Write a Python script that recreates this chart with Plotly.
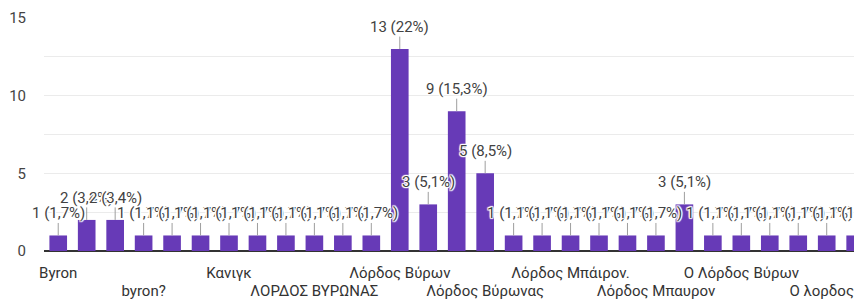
import plotly.graph_objects as go

# Data
values = [1, 2, 2, 1, 1, 1, 1, 1, 1, 1, 1, 1, 13, 3, 9, 5,
          1, 1, 1, 1, 1, 1, 3, 1, 1, 1, 1, 1, 1]
tick_positions = [0, 3, 6, 9, 12, 15, 18, 21, 24, 27]
tick_labels = ["Byron", "byron?", "Κανιγκ", "ΛΟΡΔΟΣ ΒΥΡΩΝΑΣ", "Λόρδος Βύρων",
               "Λόρδος Βύρωνας", "Λόρδος Μπάιρον.", "Λόρδος Μπαυρον",
               "Ο Λόρδος Βύρων", "Ο λορδος…"]
y_ticks = [0, 5, 10, 15]

total = sum(values)
x = list(range(len(values)))

FONT = "Roboto, Arial, sans-serif"

fig = go.Figure()
fig.add_trace(go.Bar(x=x, y=values, width=0.62, marker=dict(color="#673ab7", line=dict(width=0)),
                     hoverinfo="skip"))
# empty trace so the second (staggered) label row axis is drawn
fig.add_trace(go.Scatter(x=[], y=[], xaxis="x2", yaxis="y", hoverinfo="skip"))

def pct(v):
    p = round(v / total * 100, 1)
    s = f"{p:.1f}".replace(".", ",")
    if s.endswith(",0"):
        s = s[:-2]
    return f"{v} ({s}%)"

halo = "1px 0 1px #fff, -1px 0 1px #fff, 0 1px 1px #fff, 0 -1px 1px #fff, 1px 1px 1px #fff, -1px -1px 1px #fff, 1px -1px 1px #fff, -1px 1px 1px #fff"
for i, v in enumerate(values):
    fig.add_annotation(x=i, y=v, xref="x", yref="y", text=pct(v), showarrow=True,
                       arrowhead=0, arrowwidth=1, arrowcolor="#9e9e9e", ax=0, ay=-22,
                       standoff=0, borderpad=0,
                       font=dict(family=FONT, size=15, color="#424242", shadow=halo))

row1_vals = tick_positions[0::2]
row1_text = tick_labels[0::2]
row2_vals = tick_positions[1::2]
row2_text = tick_labels[1::2]

x_range = [-0.5, 28.24]
common_x = dict(range=x_range, tickangle=0, automargin=False, showgrid=False, zeroline=False,
                showline=False, ticks="outside", tickcolor="rgba(0,0,0,0)",
                ticklabeloverflow="allow",
                tickfont=dict(family=FONT, size=15, color="#333"))

# The page body has an 8px margin; the figure is sized to fill the rest of the 862x300 window.
fig.update_layout(
    width=854, height=292,
    margin=dict(l=36, r=0, t=10, b=49, autoexpand=False),
    paper_bgcolor="white", plot_bgcolor="white",
    showlegend=False,
    font=dict(family=FONT, size=15, color="#333"),
    xaxis=dict(tickvals=row1_vals, ticktext=row1_text, ticklen=8, **common_x),
    xaxis2=dict(tickvals=row2_vals, ticktext=row2_text, ticklen=26, overlaying="x",
                anchor="y", side="bottom", **common_x),
    yaxis=dict(range=[0, 15], tickvals=y_ticks, showgrid=True, gridcolor="#ebebeb", gridwidth=1,
               automargin=False,
               minor=dict(dtick=2.5, showgrid=True, gridcolor="#ebebeb", gridwidth=1),
               zeroline=True, zerolinecolor="#333", zerolinewidth=1.5,
               ticks="outside", ticklen=14, tickcolor="rgba(0,0,0,0)",
               tickfont=dict(family=FONT, size=15, color="#444")),
    bargap=0.38,
)

fig.write_html("out.html")
